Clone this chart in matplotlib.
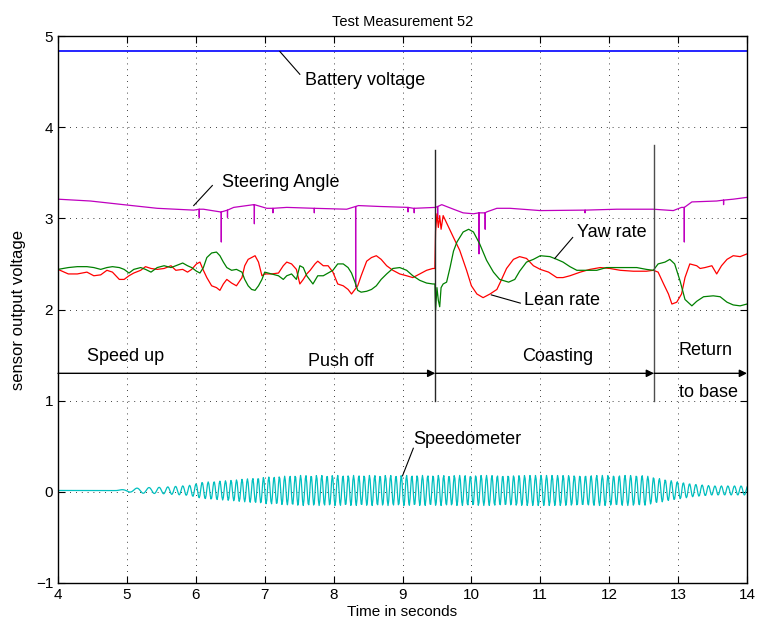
import numpy as np
import matplotlib
matplotlib.use("Agg")
import matplotlib.pyplot as plt

plt.rcParams['font.family'] = ['Liberation Sans', 'DejaVu Sans']

# --- data ---
battery_t = [4.0, 14.0]
battery_v = [4.83, 4.83]

steer_t = [4.00, 4.47, 4.95, 5.44, 5.97, 6.049, 6.05, 6.051, 6.11, 6.36, 6.369, 6.37, 6.371,
           6.459, 6.46, 6.461, 6.55, 6.84, 6.849, 6.85, 6.851, 7.03, 7.119, 7.12, 7.121, 7.32,
           7.719, 7.72, 7.721, 8.19, 8.319, 8.32, 8.321, 8.36, 8.67, 9.079, 9.08, 9.081, 9.16,
           9.169, 9.17, 9.171, 9.48, 9.509, 9.51, 9.511, 9.57, 9.74, 9.88, 10.03, 10.109, 10.11,
           10.111, 10.199, 10.20, 10.201, 10.22, 10.37, 10.56, 11.00, 11.62, 11.649, 11.65,
           11.651, 12.11, 12.64, 12.93, 13.05, 13.089, 13.09, 13.091, 13.20, 13.56, 13.659,
           13.66, 13.661, 13.80, 14.00]
steer_v = [3.21, 3.19, 3.15, 3.11, 3.09, 3.10, 3.01, 3.10, 3.10, 3.07, 3.07, 2.74, 3.07,
           3.09, 3.01, 3.09, 3.12, 3.15, 3.15, 2.94, 3.15, 3.11, 3.11, 3.06, 3.11, 3.12,
           3.11, 3.06, 3.11, 3.10, 3.13, 2.25, 3.13, 3.14, 3.13, 3.12, 3.07, 3.12, 3.11,
           3.11, 3.06, 3.11, 3.12, 3.13, 3.00, 3.13, 3.15, 3.10, 3.06, 3.05, 3.06, 2.61,
           3.06, 3.06, 2.88, 3.06, 3.07, 3.11, 3.11, 3.085, 3.09, 3.09, 3.06,
           3.09, 3.10, 3.10, 3.085, 3.12, 3.12, 2.74, 3.12, 3.18, 3.19, 3.20,
           3.15, 3.20, 3.21, 3.23]

lean_t = [4.00, 4.15, 4.28, 4.42, 4.52, 4.62, 4.71, 4.79, 4.89, 4.96, 5.03, 5.10, 5.20, 5.27,
          5.35, 5.44, 5.54, 5.64, 5.71, 5.81, 5.88, 5.94, 6.01, 6.06, 6.11, 6.16, 6.23, 6.30,
          6.35, 6.40, 6.45, 6.52, 6.59, 6.67, 6.71, 6.76, 6.81, 6.86, 6.91, 6.96, 7.00, 7.10,
          7.20, 7.27, 7.32, 7.39, 7.46, 7.51, 7.56, 7.61, 7.66, 7.73, 7.77, 7.85, 7.92, 7.99,
          8.06, 8.14, 8.21, 8.26, 8.31, 8.35, 8.40, 8.48, 8.55, 8.62, 8.69, 8.77, 8.86, 8.96,
          9.06, 9.15, 9.25, 9.35, 9.44, 9.47, 9.48, 9.50, 9.52, 9.54, 9.56, 9.59, 9.64, 9.74,
          9.83, 9.93, 10.00, 10.08, 10.17, 10.27, 10.37, 10.42, 10.51, 10.61, 10.70, 10.80,
          10.90, 11.00, 11.12, 11.24, 11.33, 11.43, 11.58, 11.72, 11.87, 12.01, 12.16, 12.35,
          12.54, 12.64, 12.71, 12.79, 12.86, 12.91, 12.98, 13.05, 13.10, 13.17, 13.27, 13.32,
          13.39, 13.49, 13.56, 13.63, 13.71, 13.80, 13.90, 14.00]
lean_v = [2.44, 2.39, 2.39, 2.41, 2.37, 2.38, 2.43, 2.41, 2.33, 2.33, 2.37, 2.40, 2.43, 2.47,
          2.45, 2.44, 2.45, 2.48, 2.43, 2.44, 2.41, 2.44, 2.50, 2.52, 2.43, 2.35, 2.26, 2.24,
          2.21, 2.28, 2.33, 2.29, 2.26, 2.35, 2.48, 2.55, 2.57, 2.59, 2.52, 2.37, 2.39, 2.39,
          2.40, 2.48, 2.52, 2.50, 2.44, 2.28, 2.33, 2.39, 2.43, 2.50, 2.53, 2.48, 2.48, 2.41,
          2.28, 2.26, 2.22, 2.17, 2.22, 2.26, 2.37, 2.53, 2.57, 2.59, 2.55, 2.48, 2.43, 2.39,
          2.37, 2.35, 2.39, 2.43, 2.45, 2.45, 2.86, 3.05, 2.90, 3.03, 2.88, 3.03, 2.95, 2.79,
          2.65, 2.43, 2.26, 2.17, 2.13, 2.17, 2.22, 2.30, 2.45, 2.55, 2.58, 2.56,
          2.48, 2.44, 2.41, 2.35, 2.35, 2.37, 2.41, 2.44, 2.46, 2.45, 2.43, 2.42,
          2.42, 2.43, 2.41, 2.28, 2.17, 2.06, 2.08, 2.17, 2.35, 2.50, 2.48, 2.45,
          2.46, 2.48, 2.39, 2.48, 2.55, 2.59, 2.58, 2.61]

yaw_t = [4.00, 4.15, 4.28, 4.42, 4.52, 4.62, 4.71, 4.79, 4.89, 4.96, 5.03, 5.10, 5.20, 5.27,
         5.35, 5.44, 5.54, 5.64, 5.71, 5.81, 5.88, 5.94, 6.01, 6.06, 6.11, 6.16, 6.23, 6.30,
         6.35, 6.40, 6.45, 6.52, 6.59, 6.67, 6.71, 6.76, 6.81, 6.86, 6.91, 6.96, 7.00, 7.10,
         7.20, 7.27, 7.32, 7.39, 7.46, 7.51, 7.56, 7.61, 7.66, 7.70, 7.77, 7.85, 7.92, 7.99,
         8.06, 8.14, 8.21, 8.26, 8.31, 8.35, 8.40, 8.48, 8.55, 8.62, 8.69, 8.77, 8.86, 8.96,
         9.06, 9.15, 9.25, 9.35, 9.44, 9.47, 9.48, 9.50, 9.52, 9.54, 9.56, 9.59, 9.64, 9.69,
         9.74, 9.79, 9.88, 9.96, 10.03, 10.12, 10.22, 10.32, 10.41, 10.54, 10.63, 10.70,
         10.80, 10.90, 11.00, 11.14, 11.24, 11.33, 11.43, 11.53, 11.67, 11.82, 11.96, 12.11,
         12.25, 12.40, 12.54, 12.64, 12.71, 12.81, 12.88, 12.95, 13.03, 13.10, 13.20, 13.27,
         13.37, 13.51, 13.61, 13.71, 13.80, 13.90, 14.00]
yaw_v = [2.44, 2.46, 2.47, 2.47, 2.46, 2.44, 2.46, 2.47, 2.46, 2.44, 2.40, 2.44, 2.46, 2.44,
         2.41, 2.46, 2.48, 2.46, 2.48, 2.51, 2.48, 2.46, 2.42, 2.40, 2.46, 2.57, 2.62, 2.63,
         2.59, 2.52, 2.46, 2.43, 2.44, 2.41, 2.33, 2.26, 2.22, 2.21, 2.26, 2.33, 2.41, 2.39,
         2.37, 2.33, 2.37, 2.39, 2.33, 2.48, 2.46, 2.37, 2.32, 2.28, 2.37, 2.37, 2.40, 2.43,
         2.50, 2.50, 2.46, 2.40, 2.30, 2.21, 2.19, 2.20, 2.22, 2.26, 2.33, 2.39, 2.45, 2.46,
         2.43, 2.37, 2.32, 2.29, 2.28, 2.28, 1.99, 2.24, 2.10, 2.03, 2.24, 2.28, 2.30, 2.46,
         2.64, 2.74, 2.85, 2.88, 2.85, 2.72, 2.54, 2.41, 2.33, 2.30, 2.33, 2.42,
         2.52, 2.55, 2.59, 2.58, 2.55, 2.52, 2.47, 2.43, 2.43, 2.43, 2.46, 2.46,
         2.46, 2.46, 2.44, 2.43, 2.50, 2.52, 2.55, 2.50, 2.31, 2.11, 2.04, 2.09,
         2.14, 2.15, 2.14, 2.08, 2.05, 2.04, 2.06]

# speedometer: oscillation envelope and pulse rate
speed_env_t = [4.0, 4.80, 4.95, 5.2, 5.5, 5.9, 6.1, 6.5, 7.0, 7.5, 12.5, 12.8, 13.2, 13.5, 14.0]
speed_env_a = [0.0, 0.0, 0.01, 0.03, 0.035, 0.055, 0.09, 0.11, 0.145, 0.165, 0.165, 0.12, 0.07,
               0.05, 0.05]
speed_rate_t = [4.0, 4.95, 5.3, 5.6, 6.0, 6.5, 7.0, 9.5, 12.6, 13.2, 14.0]
speed_rate_hz = [3.0, 4.0, 6.0, 8.5, 11.0, 12.5, 13.0, 13.0, 12.0, 11.0, 10.3]
speed_offset = 0.015
sample_dt = 0.01  # logger sample period

t = np.arange(4.0, 14.0 + sample_dt / 2, sample_dt)
phase = 2 * np.pi * np.cumsum(np.interp(t, speed_rate_t, speed_rate_hz)) * sample_dt
speed_v = speed_offset + np.interp(t, speed_env_t, speed_env_a) * np.sin(phase)

# --- figure ---
fig = plt.figure(figsize=(7.57, 6.25), dpi=100)
ax = fig.add_axes([58 / 757, 42 / 625, 689 / 757, 547 / 625])

ax.plot(battery_t, battery_v, color='#0000ff', lw=1.2)
ax.plot(steer_t, steer_v, color='#bf00bf', lw=0.9)
ax.plot(lean_t, lean_v, color='#ff0000', lw=0.9)
ax.plot(yaw_t, yaw_v, color='#008000', lw=0.9)
ax.plot(t, speed_v, color='#00bfbf', lw=0.9)

# phase markers
ax.plot([9.476, 9.476], [1.0, 3.75], color='0.15', lw=1.0)
ax.plot([12.65, 12.65], [1.0, 3.80], color='0.3', lw=1.0)
arrow = dict(arrowstyle='-|>', color='k', lw=1.0, mutation_scale=11, shrinkA=0, shrinkB=0)
ax.annotate('', xy=(9.476, 1.3), xytext=(4.0, 1.3), arrowprops=arrow)
ax.annotate('', xy=(12.65, 1.3), xytext=(9.476, 1.3), arrowprops=arrow)
ax.annotate('', xy=(14.0, 1.3), xytext=(12.65, 1.3), arrowprops=arrow)

fs = 11
afs = 13  # annotation text is drawn larger than the axis text
ax.text(4.42, 1.48, 'Speed up', fontsize=afs, va='center')
ax.text(7.63, 1.435, 'Push off', fontsize=afs, va='center')
ax.text(10.73, 1.48, 'Coasting', fontsize=afs, va='center')
ax.text(13.01, 1.545, 'Return', fontsize=afs, va='center')
ax.text(13.01, 1.085, 'to base', fontsize=afs, va='center')

# labels with leader lines
ax.text(7.585, 4.517, 'Battery voltage', fontsize=afs, va='center')
ax.plot([7.22, 7.51], [4.83, 4.58], color='k', lw=0.8)
ax.text(6.38, 3.39, 'Steering Angle', fontsize=afs, va='center')
ax.plot([5.97, 6.24], [3.14, 3.36], color='k', lw=0.8)
ax.text(11.53, 2.84, 'Yaw rate', fontsize=afs, va='center')
ax.plot([11.21, 11.47], [2.56, 2.79], color='k', lw=0.8)
ax.text(10.76, 2.10, 'Lean rate', fontsize=afs, va='center')
ax.plot([10.29, 10.71], [2.16, 2.07], color='k', lw=0.8)
ax.text(9.15, 0.57, 'Speedometer', fontsize=afs, va='center')
ax.plot([9.157, 9.0], [0.478, 0.175], color='k', lw=0.8)

ax.set_xlim(4, 14)
ax.set_ylim(-1, 5)
ax.set_xticks(range(4, 15))
ax.set_yticks(range(-1, 6))
ax.grid(True, color='k', linestyle=(0, (1, 6)), linewidth=0.6)
ax.set_axisbelow(True)
ax.tick_params(direction='in', top=True, right=True, length=5, width=0.8, labelsize=fs)
for s in ax.spines.values():
    s.set_linewidth(1.0)

ax.set_title('Test Measurement 52', fontsize=10.5, pad=7)
ax.set_xlabel('Time in seconds', fontsize=fs, labelpad=2)
ax.set_ylabel('sensor output voltage', fontsize=12, labelpad=7)

fig.savefig('out.png', dpi=100)
